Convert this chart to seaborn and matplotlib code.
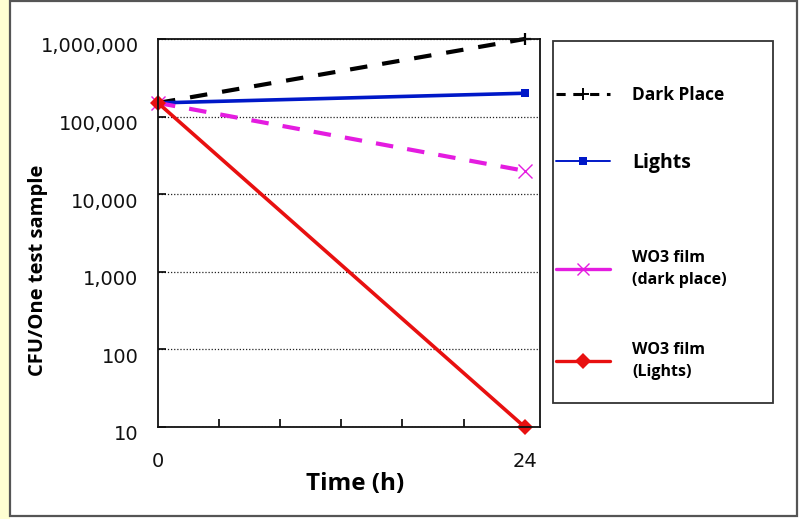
import matplotlib
matplotlib.use("Agg")
import matplotlib.pyplot as plt
import matplotlib.transforms as mtransforms
import seaborn as sns
from matplotlib.lines import Line2D
from matplotlib.patches import Rectangle
from matplotlib.ticker import FixedLocator, FixedFormatter, NullFormatter
from matplotlib.font_manager import FontProperties

# ---------------- data ----------------
time_h = [0, 24]
dark_place = [150000, 1000000]
lights = [150000, 200000]
wo3_dark = [150000, 20000]
wo3_lights = [150000, 10]

series_names = ["Dark Place", "Lights", "WO3 film\n(dark place)", "WO3 film\n(Lights)"]
ytick_values = [10, 100, 1000, 10000, 100000, 1000000]
ytick_labels = ["10", "100", "1,000", "10,000", "100,000", "1,000,000"]
xtick_values = [0, 24]
xtick_labels = ["0", "24"]
xminor_values = [4, 8, 12, 16, 20]
x_label = "Time (h)"
y_label = "CFU/One test sample"

# ---------------- style ----------------
sns.set_theme(style="white")
plt.rcParams["font.family"] = ["DejaVu Sans"]

W, H = 801, 519
fig = plt.figure(figsize=(W / 100, H / 100), dpi=100)
fig.patch.set_facecolor("white")


def fx(px):
    return px / W


def fy(py):
    return 1 - py / H


# background strip and frame
fig.patches.append(Rectangle((0, 0), fx(10), 1, transform=fig.transFigure,
                             facecolor="#FFFFD2", edgecolor="none", zorder=-5))
fig.patches.append(Rectangle((fx(10), fy(516)), fx(797) - fx(10), fy(1) - fy(516),
                             transform=fig.transFigure, fill=False,
                             edgecolor="#555555", linewidth=1.6, zorder=5))

ax = fig.add_axes([fx(158), fy(427), fx(540) - fx(158), fy(39) - fy(427)])
ax.set_facecolor("white")
ax.set_yscale("log")

styles = [
    dict(color="black", linestyle=(0, (4.2, 3.6)), lw=3.0, marker="+", ms=9, mew=1.6),
    dict(color="#0018C8", linestyle="-", lw=2.6, marker="s", ms=6, mew=0),
    dict(color="#E41CE0", linestyle=(0, (4.2, 3.4)), lw=3.0, marker="x", ms=10, mew=1.0),
    dict(color="#E81010", linestyle="-", lw=2.6, marker="D", ms=8, mew=0),
]
values = [dark_place, lights, wo3_dark, wo3_lights]

for name, vals, st in zip(series_names, values, styles):
    sns.lineplot(x=time_h, y=vals, ax=ax, color=st["color"], linestyle=st["linestyle"],
                 lw=st["lw"], marker=st["marker"], markersize=st["ms"],
                 markeredgewidth=st["mew"], markeredgecolor=st["color"],
                 label=name, legend=False, clip_on=False)

ax.set_xlim(0, 25)
ax.set_ylim(10, 1000000)

ax.yaxis.set_major_locator(FixedLocator(ytick_values))
ax.yaxis.set_major_formatter(FixedFormatter(ytick_labels))
ax.yaxis.set_minor_locator(FixedLocator([]))
ax.xaxis.set_major_locator(FixedLocator(xtick_values))
ax.xaxis.set_major_formatter(FixedFormatter(xtick_labels))
ax.xaxis.set_minor_locator(FixedLocator(xminor_values))
ax.xaxis.set_minor_formatter(NullFormatter())

ax.tick_params(axis="y", which="major", direction="in", length=6, width=1.2,
               color="black", labelsize=14, pad=14, labelcolor="#111111")
ax.tick_params(axis="x", which="major", direction="in", length=0, width=1.2,
               labelsize=14, pad=18, labelcolor="#111111")
ax.tick_params(axis="x", which="minor", direction="in", length=6, width=1.2,
               color="black", bottom=True)
ax.tick_params(left=True, bottom=True)

# y tick labels sit slightly below their ticks in the reference
shift = mtransforms.ScaledTranslation(0, -6 / 100, fig.dpi_scale_trans)
for lab in ax.get_yticklabels():
    lab.set_transform(lab.get_transform() + shift)

ax.grid(False)
ax.yaxis.grid(True, which="major", linestyle=(0, (1, 1.5)), color="#222222", lw=0.9)

for s in ax.spines.values():
    s.set_color("#111111")
    s.set_linewidth(1.3)

fig.text(fx(355), fy(484), x_label, ha="center", va="center",
         family="Open Sans", weight="bold", fontsize=17.5, color="black")
fig.text(fx(38), fy(270), y_label, ha="center", va="center", rotation=90,
         family="Open Sans", weight="bold", fontsize=14.5, color="black")

# ---------------- legend box ----------------
fig.patches.append(Rectangle((fx(553), fy(403)), fx(773) - fx(553), fy(41) - fy(403),
                             transform=fig.transFigure, fill=False,
                             edgecolor="#333333", linewidth=1.3, zorder=4))

handle_styles = [
    dict(color="black", linestyle=(0, (3, 2.5)), lw=2.2, marker="+", ms=8, mew=1.4),
    dict(color="#0018C8", linestyle="-", lw=1.4, marker="s", ms=6, mew=0),
    dict(color="#E41CE0", linestyle="-", lw=2.4, marker="x", ms=9, mew=1.0),
    dict(color="#E81010", linestyle="-", lw=2.4, marker="D", ms=8, mew=0),
]
legend_sizes = [12.5, 14, 11.5, 11.5]
legend_y = [95, 163, 269, 361]

for name, hs, size, ly in zip(series_names, handle_styles, legend_sizes, legend_y):
    h = Line2D([], [], color=hs["color"], linestyle=hs["linestyle"], lw=hs["lw"],
               marker=hs["marker"], markersize=hs["ms"], markeredgewidth=hs["mew"],
               markeredgecolor=hs["color"])
    fsize_px = size * 100 / 72
    leg = fig.legend(handles=[h], labels=[name], loc="center left",
                     bbox_to_anchor=(fx(556), fy(ly)), bbox_transform=fig.transFigure,
                     frameon=False, borderpad=0, borderaxespad=0,
                     handlelength=54 / fsize_px, handletextpad=22 / fsize_px,
                     numpoints=1,
                     prop=FontProperties(family="Open Sans", weight="bold", size=size))
    for t in leg.get_texts():
        t.set_linespacing(1.45)
        t.set_color("black")

fig.savefig("out.png", dpi=100, facecolor="white")
